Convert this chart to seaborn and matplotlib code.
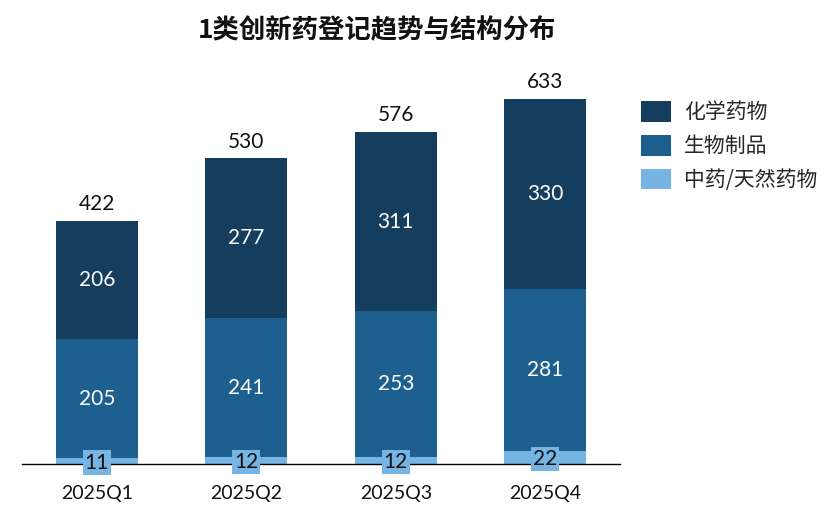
import numpy as np
import pandas as pd
import seaborn as sns
import matplotlib.pyplot as plt
from matplotlib.patches import Patch

sns.set_theme(style="white")
plt.rcParams['font.family'] = ['Noto Sans CJK SC', 'DejaVu Sans']

quarters = ["2025Q1", "2025Q2", "2025Q3", "2025Q4"]
chem = [206, 277, 311, 330]
bio = [205, 241, 253, 281]
tcm = [11, 12, 12, 22]
totals = [422, 530, 576, 633]

series = ["化学药物", "生物制品", "中药/天然药物"]
colors = {"化学药物": "#143d5e", "生物制品": "#1d5f8e", "中药/天然药物": "#76b4e3"}
num_font = ["Lato", "DejaVu Sans"]

df = pd.DataFrame({"季度": quarters, "中药/天然药物": tcm, "生物制品": bio, "化学药物": chem})

fig = plt.figure(figsize=(8.3, 5.08), dpi=100)
ax = fig.add_axes([0.0265, 0.0866, 0.7205, 0.7945])

# cumulative heights, drawn tallest first so the shorter ones sit on top
stack_order = ["中药/天然药物", "生物制品", "化学药物"]
bottoms, tops = {}, {}
cum = np.zeros(len(quarters))
for s in stack_order:
    bottoms[s] = cum.copy()
    cum = cum + df[s].values
    tops[s] = cum.copy()

for s in reversed(stack_order):
    sns.barplot(x=quarters, y=tops[s], color=colors[s], width=0.55,
                saturation=1, ax=ax, edgecolor="none")

for i in range(len(quarters)):
    ax.text(i, bottoms["化学药物"][i] + chem[i] / 2, str(chem[i]), ha="center", va="center",
            color="white", fontsize=15, family=num_font)
    ax.text(i, bottoms["生物制品"][i] + bio[i] / 2, str(bio[i]), ha="center", va="center",
            color="white", fontsize=15, family=num_font)
    ax.text(i, tcm[i] / 2 - 3, str(tcm[i]), ha="center", va="center", color="#111111",
            fontsize=15, family=num_font, zorder=5,
            bbox=dict(boxstyle="square,pad=0.1", fc=colors["中药/天然药物"], ec="none"))
    ax.text(i, totals[i] + 12, str(totals[i]), ha="center", va="bottom", color="#111111",
            fontsize=15, family=num_font)

ax.set_xlim(-0.5, 3.5)
ax.set_ylim(0, 700)
ax.set_yticks([])
ax.set_xlabel("")
ax.set_ylabel("")
ax.tick_params(axis="x", length=0, labelsize=14, pad=15, colors="#111111")
for lab in ax.get_xticklabels():
    lab.set_family(num_font)
for sp in ["top", "left", "right"]:
    ax.spines[sp].set_visible(False)
ax.spines["bottom"].set_color("black")
ax.spines["bottom"].set_linewidth(1.0)
ax.spines["bottom"].set_zorder(1)

handles = [Patch(facecolor=colors[s], edgecolor="none", label=s) for s in series]
fig.legend(handles=handles, loc="upper left", bbox_to_anchor=(0.75, 0.838), frameon=False,
           fontsize=15, handlelength=1.45, handleheight=1.15, handletextpad=0.6, labelspacing=0.55)

fig.text(0.454, 0.94, "1类创新药登记趋势与结构分布", ha="center", va="center",
         fontsize=19, fontweight="bold", color="#111111")

fig.savefig("out.png", dpi=100)
